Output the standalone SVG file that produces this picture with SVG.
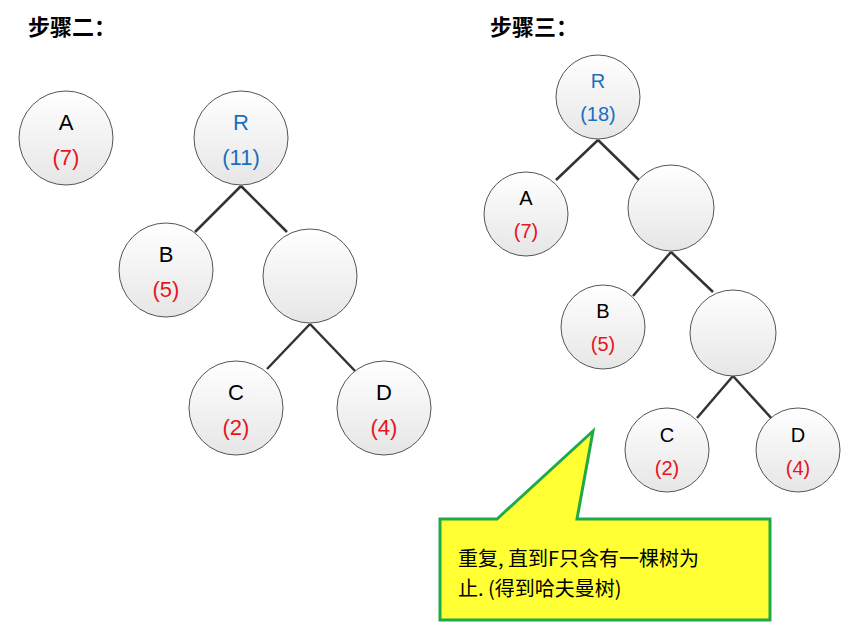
<svg xmlns="http://www.w3.org/2000/svg" width="866" height="630" viewBox="0 0 866 630">
<defs>
<linearGradient id="g" x1="0" y1="0" x2="0" y2="1"><stop offset="0" stop-color="#ffffff"/><stop offset="1" stop-color="#e6e6e6"/></linearGradient>
<style>
.n{fill:url(#g);stroke:#555;stroke-width:1}
.t{font-family:"Liberation Sans","Noto Sans CJK SC",sans-serif;font-size:22px;text-anchor:middle}
.k{fill:#000}.r{fill:#e8141e}.b{fill:#1a6fbf}
.e line{stroke:#333;stroke-width:2.5}
.h{font-family:"Noto Sans CJK SC",sans-serif;font-size:22px;font-weight:bold}
</style>
</defs>
<rect width="866" height="630" fill="#fff"/>
<text class="h" x="28" y="35">步骤二：</text>
<text class="h" x="490" y="35">步骤三：</text>
<g class="e" id="edges">
<line x1="241" y1="186" x2="195" y2="232"/><line x1="241" y1="186" x2="287" y2="232"/>
<line x1="310" y1="324" x2="267" y2="369"/><line x1="310" y1="324" x2="356" y2="372"/>
<line x1="598" y1="140" x2="556" y2="180"/><line x1="598" y1="140" x2="640" y2="181"/>
<line x1="671" y1="252" x2="633" y2="296"/><line x1="671" y1="252" x2="713" y2="292"/>
<line x1="733" y1="376" x2="697" y2="418"/><line x1="733" y1="376" x2="773" y2="420"/>
</g>
<g id="A1"><circle class="n" cx="66" cy="138" r="47"/><text class="t k" x="66" y="130">A</text><text class="t r" x="66" y="165">(7)</text></g>
<g id="R1"><circle class="n" cx="241" cy="138" r="47"/><text class="t b" x="241" y="130">R</text><text class="t b" x="241" y="165">(11)</text></g>
<g id="B1"><circle class="n" cx="166" cy="270" r="47"/><text class="t k" x="166" y="262">B</text><text class="t r" x="166" y="297">(5)</text></g>
<g id="E1"><circle class="n" cx="310" cy="276" r="47"/></g>
<g id="C1"><circle class="n" cx="236" cy="408" r="47"/><text class="t k" x="236" y="400">C</text><text class="t r" x="236" y="435">(2)</text></g>
<g id="D1"><circle class="n" cx="384" cy="408" r="47"/><text class="t k" x="384" y="400">D</text><text class="t r" x="384" y="435">(4)</text></g>
<g id="R2"><circle class="n" cx="598" cy="97" r="42"/><text class="t b" x="598" y="88" style="font-size:20px">R</text><text class="t b" x="598" y="121" style="font-size:20px">(18)</text></g>
<g id="A2"><circle class="n" cx="526" cy="214" r="42"/><text class="t k" x="526" y="205" style="font-size:20px">A</text><text class="t r" x="526" y="238" style="font-size:20px">(7)</text></g>
<g id="E2"><circle class="n" cx="671" cy="208" r="43"/></g>
<g id="B2"><circle class="n" cx="603" cy="327" r="42"/><text class="t k" x="603" y="318" style="font-size:20px">B</text><text class="t r" x="603" y="351" style="font-size:20px">(5)</text></g>
<g id="E3"><circle class="n" cx="733" cy="333" r="43"/></g>
<g id="C2"><circle class="n" cx="667" cy="450" r="42"/><text class="t k" x="667" y="442" style="font-size:20px">C</text><text class="t r" x="667" y="475" style="font-size:20px">(2)</text></g>
<g id="D2"><circle class="n" cx="798" cy="450" r="42"/><text class="t k" x="798" y="442" style="font-size:20px">D</text><text class="t r" x="798" y="475" style="font-size:20px">(4)</text></g>
<g id="callout">
<path d="M440 519 L497 519 L593 431 L577 519 L770 519 L770 620 L440 620 Z" fill="#ffff33" stroke="#1faa4a" stroke-width="3" stroke-linejoin="miter"/>
<text x="458" y="566" style="font-family:'Noto Sans CJK SC',sans-serif;font-size:20px">重复, 直到F只含有一棵树为</text>
<text x="458" y="596" style="font-family:'Noto Sans CJK SC',sans-serif;font-size:20px">止. (得到哈夫曼树)</text>
</g>
</svg>
